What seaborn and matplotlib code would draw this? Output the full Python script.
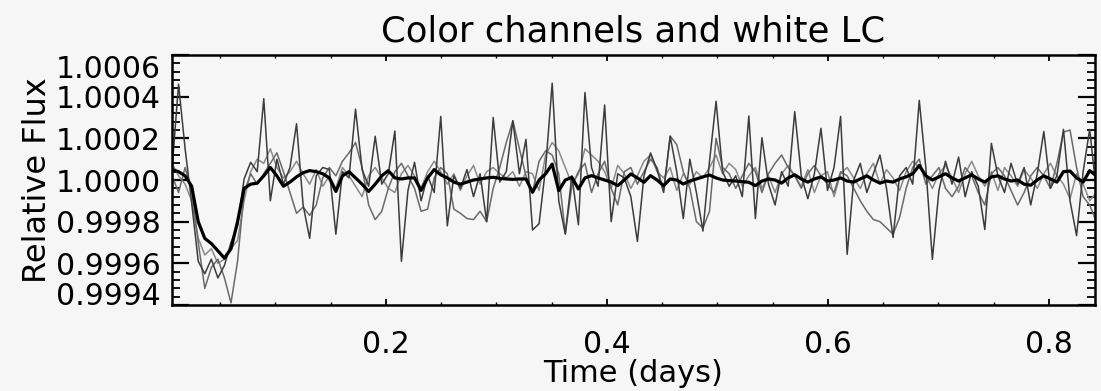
import numpy as np
import pandas as pd
import matplotlib
matplotlib.use("Agg")
import matplotlib.pyplot as plt
from matplotlib.ticker import MultipleLocator, FixedLocator, FormatStrFormatter
import seaborn as sns

# ---- data (deviations from 1.0 in ppm, sampled every DT days from T_START) ----
T_START = 0.0066
DT = 0.00593

white_lc = [
    50, 40, 20, -30, -200, -280, -305, -340, -375, -330, -200, -40, -20, -15, 20, 60, 20, -30, -10, 15,
    35, 45, 40, 30, 10, -55, 20, 40, 10, -20, -55, -20, 20, 45, 10, 5, 10, 10, -50, 10,
    50, 25, 10, -10, -20, -10, 0, 5, 10, 13, 8, 5, 3, 5, 5, -59, 0, 30, 76, -51,
    0, 13, -43, 10, 21, 10, 0, -10, -27, 0, 29, 10, -11, 21, 0, -27, 5, 0, -19, -5,
    5, 15, 24, 10, 0, -3, -5, -8, -11, -27, -5, 5, 0, -15, 10, 25, 5, -10, 5, 15,
    -5, 0, 10, -5, -10, 5, 20, 0, -15, -5, -10, 5, 15, 30, 70, 20, 0, 15, 30, 10,
    -5, 10, 25, 5, -10, 15, 20, 5, -5, 0, -20, -25, 0, 20, 5, -10, 40, 43, 10, -10,
    45, 20,
]

channel_a = [
    50, 460, 150, -110, -390, -450, -380, -470, -410, -300, -220, 5, 85, 40, 390, -100, 100, -20, 60, 270,
    -120, -280, 20, 60, 50, -260, 40, 10, 340, 50, -30, 210, -20, 30, 235, -390, -50, 85, -100, 20,
    -60, 305, -220, 20, -40, 50, -80, 30, -200, 300, -10, 40, 285, 30, 195, -240, -210, 60, 465, -100,
    -260, 20, -215, 420, 60, -30, 360, -200, 30, 10, -80, -295, 20, 130, 50, -60, 210, 40, -185, 100,
    -60, -245, 90, 378, 40, -30, 20, -80, 307, -185, 203, -20, -120, 40, -30, 328, 20, -90, 30, 248,
    -50, 60, 305, -357, 0, 80, -60, 30, 120, -40, -276, 20, 60, -20, 382, 60, -381, -50, 90, -20,
    110, -80, 40, -30, -238, 176, 20, -60, 80, -20, 60, -120, 30, 233, -40, 20, 243, -100, -267, 40,
    243, -50,
]

channel_b = [
    20, -60, 60, -50, -300, -520, -420, -380, -470, -590, -390, -60, 30, -20, 30, 80, 130, 40, -60, -160,
    -130, -170, -120, 10, 60, 20, 90, 130, 180, 60, -120, -190, -150, -40, 40, 80, 20, -40, -150, -140,
    10, 60, 30, -140, -160, -185, -190, -150, -200, -40, 60, 180, 283, 150, 20, -60, 90, 140, 120, 30,
    -257, -30, 40, 80, -60, 30, 90, -40, -120, 40, 60, -20, 40, 100, 60, -50, 211, 170, 40, -40,
    -200, -230, -150, 200, 60, 30, -40, 20, 80, 40, -60, 30, 80, 120, 60, 20, -40, 30, 70, 20,
    -20, -60, 40, 20, -40, -100, -150, -190, -200, -230, -260, -180, -40, 60, 100, -20, 20, 60, -40, -80,
    -30, 60, 20, -60, -120, 30, 60, 20, -50, -120, -60, 20, 60, 20, -40, 80, 230, 240, 60, -80,
    -120, -200,
]

channel_c = [
    80, 20, -20, -100, -280, -360, -330, -400, -380, -330, -290, -100, 40, 100, 80, 150, 60, 10, 40, 90,
    30, -20, 50, -30, 20, -40, 60, 20, -30, -80, 20, 60, 10, -40, -60, 30, 70, 20, -40, 40,
    90, 40, -20, 30, -50, 20, 70, -20, 40, 60, 30, 10, 40, -30, 40, 30, -50, 120, 180, 140,
    60, -20, 30, 150, 120, 90, 40, -40, 70, 30, -40, 20, 90, 120, 40, 10, 60, -50, 30, -20,
    40, 10, 60, 120, 30, 80, 50, -30, 20, 60, -40, 20, -60, 30, 70, 20, -30, 50, -60, 20,
    40, -80, 30, 60, 10, -40, 30, 80, -20, 50, 10, -50, 40, 90, 60, 20, -40, 30, 70, 10,
    -60, 30, 90, 20, -30, 40, -50, 60, 20, -30, 50, 10, -40, 30, 80, 20, -20, -90, 30, -20,
    -100, -60,
]

y_ticks = [0.9994, 0.9996, 0.9998, 1.0000, 1.0002, 1.0004, 1.0006]
x_ticks = [0.2, 0.4, 0.6, 0.8]

# ---- build long-form table ----
n = len(white_lc)
time = T_START + DT * np.arange(n)
frames = []
for name, vals in [("C", channel_c), ("B", channel_b), ("A", channel_a), ("White", white_lc)]:
    frames.append(pd.DataFrame({"time": time,
                                "flux": 1.0 + np.asarray(vals, dtype=float) * 1e-6,
                                "series": name}))
df = pd.concat(frames, ignore_index=True)

sns.set_style("ticks")
plt.rcParams["font.family"] = ["DejaVu Sans"]
for k in ["text.color", "axes.labelcolor", "xtick.color", "ytick.color", "axes.edgecolor"]:
    plt.rcParams[k] = "black"

fig = plt.figure(figsize=(11.01, 3.91), dpi=100)
bg = "#f6f6f6"
fig.patch.set_facecolor(bg)
ax = fig.add_axes([172 / 1101, 1 - 305 / 391, (1095 - 172) / 1101, (305 - 55) / 391])
ax.set_facecolor(bg)

styles = {"C": ("#8a8a8a", 1.1), "B": ("#6a6a6a", 1.1), "A": ("#3c3c3c", 1.1), "White": ("#000000", 2.3)}
for name in ["C", "B", "A", "White"]:
    sub = df[df["series"] == name]
    col, lw = styles[name]
    sns.lineplot(data=sub, x="time", y="flux", color=col, linewidth=lw, ax=ax,
                 estimator=None, sort=False, legend=False)

ax.set_xlim(0.0066, 0.8416)
ax.set_ylim(0.9994, 1.0006)

ax.yaxis.set_major_locator(FixedLocator(y_ticks))
ax.yaxis.set_minor_locator(MultipleLocator(0.00004))
ax.yaxis.set_major_formatter(FormatStrFormatter("%.4f"))
ax.xaxis.set_major_locator(FixedLocator(x_ticks))
ax.xaxis.set_minor_locator(MultipleLocator(0.05))
ax.xaxis.set_major_formatter(FormatStrFormatter("%.1f"))

ax.tick_params(axis="y", which="major", direction="in", length=12, width=1.6,
               left=True, right=True, labelsize=21.5, pad=8)
ax.tick_params(axis="y", which="minor", direction="in", length=6, width=1.3,
               left=True, right=True)
ax.tick_params(axis="x", which="major", direction="in", length=4, width=1.3,
               bottom=True, top=True, labelsize=21.5, pad=18)
ax.tick_params(axis="x", which="minor", direction="in", length=2, width=1.0,
               bottom=True, top=True)

for s in ax.spines.values():
    s.set_linewidth(1.8)
    s.set_color("black")
    s.set_visible(True)

fig.canvas.draw()
ylabels = ax.get_yticklabels()
ylabels[0].set_va("baseline")
ylabels[-1].set_va("top")

ax.set_xlabel("Time (days)", fontsize=22, labelpad=0)
ax.set_ylabel("Relative Flux", fontsize=23)
ax.yaxis.set_label_coords(-0.129, 0.5)
ax.set_title("Color channels and white LC", fontsize=25.5, pad=10)

fig.savefig("out.png", dpi=100, facecolor=bg)
